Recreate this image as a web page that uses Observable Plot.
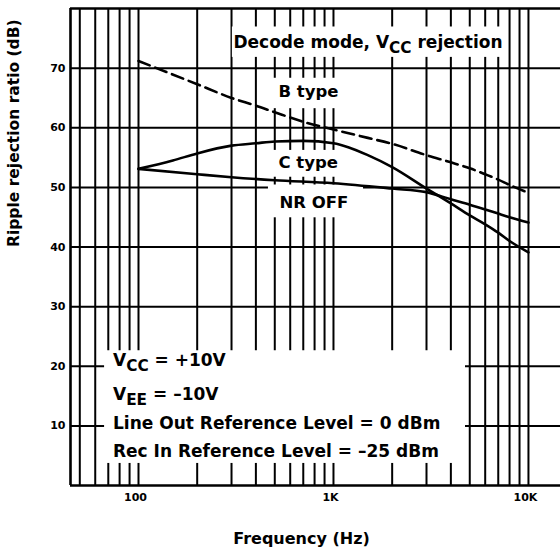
<!DOCTYPE html>
<html>
<head>
<meta charset="utf-8">
<script src="https://cdn.jsdelivr.net/npm/d3@7"></script>
<script src="https://cdn.jsdelivr.net/npm/@observablehq/plot@0.6"></script>
<style>
  html, body { margin: 0; padding: 0; background: #fff; }
</style>
</head>
<body>
<div id="chart"></div>
<script>
// ---- data ----
const freqB  = [100, 200, 300, 400, 500, 700, 1000, 1500, 2000, 3000, 4000, 5000, 6000, 7000, 8000, 10000];
const dbB    = [71.2, 67.3, 65.0, 63.7, 62.6, 61.0, 59.7, 58.3, 57.3, 55.4, 54.2, 53.2, 52.2, 51.3, 50.4, 49.1];
const freqC  = [100, 150, 200, 300, 400, 500, 700, 1000, 1200, 1500, 2000, 3000, 4000, 5000, 6000, 7000, 8000, 10000];
const dbC    = [53.1, 54.5, 55.7, 57.0, 57.4, 57.7, 57.8, 57.4, 56.7, 55.4, 53.4, 49.8, 47.3, 45.3, 43.8, 42.4, 41.0, 39.1];
const freqNR = [100, 200, 300, 500, 1000, 2000, 3000, 4000, 5000, 6000, 7000, 8000, 10000];
const dbNR   = [53.1, 52.2, 51.7, 51.2, 50.7, 49.8, 49.2, 48.0, 47.1, 46.3, 45.6, 45.0, 44.1];

const gridFreqs = [50, 60, 70, 80, 90, 100, 200, 300, 400, 500, 600, 700, 800, 900,
                   1000, 2000, 3000, 4000, 5000, 6000, 7000, 8000, 9000, 10000];
const gridDb = [10, 20, 30, 40, 50, 60, 70];
const xTicks = [100, 300, 1000, 3000, 10000];
const xTickLabels = ["100", "300", "1K", "3K", "10K"];
const yTicks = [10, 20, 30, 40, 50, 60, 70];

const titleText = "Decode mode, V_{CC} rejection";
const seriesLabels = ["B type", "C type", "NR OFF"];
const legendLines = ["V_{CC} = +10V", "V_{EE} = \u201310V",
                     "Line Out Reference Level = 0 dBm", "Rec In Reference Level = \u201325 dBm"];
const xTitle = "Frequency (Hz)";
const yTitle = "Ripple rejection ratio (dB)";

// ---- build tables ----
const rows = (fs, vs) => fs.map((f, i) => ({f, db: vs[i]}));
const dataB = rows(freqB, dbB), dataC = rows(freqC, dbC), dataNR = rows(freqNR, dbNR);

const xDomain = [44.8, 14600];
const font = "DejaVu Sans, Liberation Sans, sans-serif";
const annot = {fontFamily: font, fontWeight: "bold", fill: "black", textAnchor: "start", lineAnchor: "bottom"};
const box = (x1, x2, y1, y2) => Plot.rect([{x1, x2, y1, y2}], {x1: "x1", x2: "x2", y1: "y1", y2: "y2", fill: "white"});

const chart = Plot.plot({
  width: 560,
  height: 550,
  marginLeft: 70,
  marginRight: 0,
  marginTop: 8,
  marginBottom: 65,
  style: {background: "white", fontFamily: font, overflow: "visible"},
  x: {type: "log", domain: xDomain},
  y: {domain: [0, 80]},
  marks: [
    // grid
    Plot.ruleX(gridFreqs, {stroke: "black", strokeWidth: 2}),
    Plot.ruleY(gridDb, {stroke: "black", strokeWidth: 2}),
    // white panels behind the annotations
    box(303, 7700, 71.8, 76.9),
    box(464, 1152, 63.2, 68.3),
    box(464, 1152, 51.7, 56.2),
    box(464, 1426, 44.9, 50.4),
    box(67, 4755, 3.7, 22.6),
    // frame
    Plot.ruleY([0, 80], {stroke: "black", strokeWidth: 2.6}),
    Plot.ruleX([xDomain[0]], {stroke: "black", strokeWidth: 2.6}),
    // curves
    Plot.line(dataB, {x: "f", y: "db", stroke: "black", strokeWidth: 2.6, strokeDasharray: "12,6", curve: "monotone-x"}),
    Plot.line(dataC, {x: "f", y: "db", stroke: "black", strokeWidth: 2.6, curve: "monotone-x"}),
    Plot.line(dataNR, {x: "f", y: "db", stroke: "black", strokeWidth: 2.6, curve: "monotone-x"}),
    // axes
    Plot.axisX(xTicks, {anchor: "bottom", tickSize: 0, tickPadding: 8, dx: -3, label: null,
      tickFormat: d => xTickLabels[xTicks.indexOf(d)], fontSize: 11, fontWeight: "bold", fontFamily: font}),
    Plot.axisY(yTicks, {anchor: "left", tickSize: 0, tickPadding: 5, label: null,
      fontSize: 11, fontWeight: "bold", fontFamily: font}),
    // annotations
    Plot.text([titleText], {...annot, x: 307, y: 73.3, text: d => d, fontSize: 17}),
    Plot.text([seriesLabels[0]], {...annot, x: 522, y: 65.1, text: d => d, fontSize: 16.5}),
    Plot.text([seriesLabels[1]], {...annot, x: 522, y: 53.3, text: d => d, fontSize: 16.5}),
    Plot.text([seriesLabels[2]], {...annot, x: 528, y: 46.5, text: d => d, fontSize: 16.5}),
    Plot.text(legendLines, {...annot, x: 74, y: (d, i) => [20.0, 14.3, 9.4, 4.7][i], text: d => d, fontSize: 17}),
    // axis titles
    Plot.text([yTitle], {frameAnchor: "left", dx: -56, rotate: -90, text: d => d, fontSize: 15.5,
      fontWeight: "bold", fontFamily: font, lineAnchor: "middle"}),
    Plot.text([xTitle], {frameAnchor: "bottom", dx: -14, dy: 53, text: d => d, fontSize: 16,
      fontWeight: "bold", fontFamily: font, lineAnchor: "middle"})
  ]
});

// subscripts written as _{..}
const NS = "http://www.w3.org/2000/svg";
chart.querySelectorAll("text").forEach(t => {
  const s = t.textContent;
  if (!s.includes("_{")) return;
  while (t.firstChild) t.removeChild(t.firstChild);
  const re = /_\{([^}]*)\}/g;
  let last = 0, m, shifted = false;
  const add = (txt, attrs) => {
    const ts = document.createElementNS(NS, "tspan");
    for (const k in attrs) ts.setAttribute(k, attrs[k]);
    ts.textContent = txt;
    t.appendChild(ts);
  };
  while ((m = re.exec(s))) {
    if (m.index > last) add(s.slice(last, m.index), shifted ? {dy: "-0.27em"} : {});
    shifted = false;
    add(m[1], {dy: "0.3em", "font-size": "90%"});
    shifted = true;
    last = re.lastIndex;
  }
  if (last < s.length) add(s.slice(last), shifted ? {dy: "-0.27em"} : {});
});

document.getElementById("chart").appendChild(chart);
</script>
</body>
</html>
